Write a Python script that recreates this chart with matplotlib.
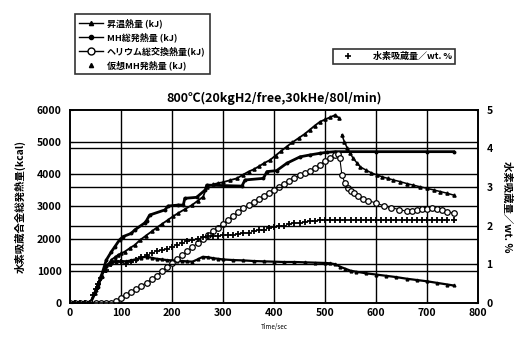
import matplotlib
matplotlib.use("Agg")
import matplotlib.pyplot as plt
from matplotlib.lines import Line2D

plt.rcParams['font.family'] = ['Noto Sans CJK JP', 'DejaVu Sans']
plt.rcParams['font.weight'] = 'bold'

# ---- data ----
title = "800℃(20kgH2/free,30kHe/80l/min)"
x_ticks = [0, 100, 200, 300, 400, 500, 600, 700, 800]
y_ticks = [0, 1000, 2000, 3000, 4000, 5000, 6000]
y2_ticks = [0, 1, 2, 3, 4, 5]

# MH発熱量 (stepped, dots)
mh_t = [0, 40, 55, 61, 71, 81, 88, 97, 104, 120, 127, 146, 150, 156, 186, 192, 212, 222, 225,
        248, 265, 268, 337, 343, 379, 386, 405, 425, 451, 471, 490, 503, 520, 600, 700, 752]
mh_v = [0, 0, 500, 820, 1330, 1590, 1750, 1960, 2060, 2160, 2270, 2480, 2560, 2730, 2890, 3010,
        3040, 3040, 3250, 3280, 3510, 3660, 3630, 3820, 3870, 4080, 4110, 4340, 4540, 4600,
        4650, 4680, 4700, 4700, 4700, 4700]

# 仮想MH発熱量 (triangles) - rising part and descending part
vm1_t = [0, 10, 20, 30, 40, 48, 55, 62, 68, 75, 81, 88, 94, 100, 107, 117, 127, 137, 148, 160,
         170, 181, 192, 202, 212, 226, 240, 250, 261, 268, 280, 290, 300, 313, 327, 340, 350,
         360, 370, 380, 392, 403, 414, 425, 436, 448, 460, 470, 480, 490, 500, 510, 520, 528]
vm1_v = [0, 0, 0, 0, 0, 300, 610, 850, 1020, 1200, 1340, 1420, 1490, 1540, 1590, 1700, 1800,
         1950, 2080, 2220, 2340, 2460, 2580, 2690, 2790, 2920, 3050, 3170, 3300, 3610, 3680,
         3720, 3750, 3810, 3870, 3990, 4080, 4150, 4240, 4340, 4440, 4580, 4720, 4860, 4990,
         5120, 5250, 5380, 5510, 5630, 5700, 5770, 5840, 5740]
vm2_t = [533, 538, 544, 549, 555, 562, 569, 580, 590, 601, 612, 623, 634, 647, 660, 673, 686,
         700, 713, 726, 739, 752]
vm2_v = [5220, 5000, 4800, 4650, 4500, 4360, 4230, 4130, 4050, 3980, 3920, 3870, 3820, 3770,
         3710, 3660, 3610, 3560, 3510, 3460, 3410, 3350]

# ヘリウム熱交換熱量 (open circles)
he_t = [0, 10, 20, 30, 40, 50, 60, 70, 80, 90, 100, 110, 120, 130, 140, 150, 160, 170, 180, 190,
        200, 210, 220, 230, 240, 250, 260, 270, 280, 290, 300, 310, 320, 330, 340, 350, 360,
        370, 380, 390, 400, 410, 420, 430, 440, 450, 460, 470, 480, 490, 500, 510, 520, 525,
        529, 533, 539, 545, 550, 556, 565, 575, 585, 600, 615, 630, 645, 660, 670, 680, 690,
        700, 710, 720, 730, 740, 752]
he_v = [0, 0, 0, 0, 0, 0, 0, 0, 0, 60, 150, 250, 340, 430, 530, 630, 730, 850, 980, 1110,
        1240, 1360, 1480, 1600, 1730, 1860, 1990, 2110, 2230, 2340, 2460, 2580, 2700, 2820,
        2940, 3040, 3140, 3240, 3330, 3430, 3520, 3610, 3710, 3800, 3880, 3960, 4030, 4090,
        4200, 4300, 4400, 4500, 4600, 4620, 4490, 3980, 3720, 3580, 3480, 3410, 3320, 3240,
        3180, 3100, 3020, 2960, 2900, 2850, 2840, 2900, 2920, 2930, 2940, 2930, 2880, 2830,
        2790]

# 昇温熱量 (lower line, small triangles)
sh_t = [0, 20, 40, 50, 60, 70, 80, 90, 100, 110, 120, 130, 140, 150, 160, 170, 180, 190, 200,
        210, 220, 230, 240, 250, 260, 270, 280, 290, 300, 320, 340, 360, 380, 400, 420, 440,
        460, 480, 500, 510, 520, 530, 540, 550, 560, 580, 600, 620, 640, 660, 680, 700, 720,
        740, 752]
sh_v = [0, 0, 0, 400, 800, 1150, 1250, 1280, 1300, 1290, 1320, 1360, 1400, 1440, 1400, 1370,
        1350, 1330, 1320, 1310, 1300, 1290, 1280, 1350, 1430, 1420, 1390, 1370, 1350, 1330,
        1320, 1300, 1290, 1280, 1270, 1270, 1260, 1250, 1240, 1230, 1200, 1120, 1060, 1000,
        970, 920, 880, 840, 800, 750, 710, 670, 620, 570, 540]

# 水素吸蔵量 wt% (plus markers, right axis)
h2_t = [0, 10, 20, 30, 40, 45, 50, 55, 61, 70, 80, 90, 100, 110, 120, 130, 140, 150, 160, 170,
        180, 190, 200, 210, 220, 230, 240, 250, 260, 270, 280, 290, 300, 310, 320, 330, 340,
        350, 360, 370, 380, 390, 400, 410, 420, 430, 440, 450, 460, 470, 480, 490, 500, 510,
        520, 530, 540, 550, 560, 570, 580, 590, 600, 610, 620, 630, 640, 650, 660, 670, 680,
        690, 700, 710, 720, 730, 740, 752]
h2_v = [0, 0, 0, 0, 0, 0.2, 0.35, 0.5, 0.65, 0.85, 1.0, 1.08, 1.05, 1.0, 1.05, 1.1, 1.18, 1.25,
        1.3, 1.35, 1.38, 1.4, 1.45, 1.5, 1.55, 1.6, 1.63, 1.66, 1.7, 1.72, 1.73, 1.74, 1.75,
        1.76, 1.77, 1.78, 1.8, 1.82, 1.85, 1.88, 1.9, 1.93, 1.96, 1.98, 2.0, 2.03, 2.06, 2.08,
        2.1, 2.11, 2.13, 2.14, 2.15, 2.15, 2.15, 2.15, 2.15, 2.15, 2.15, 2.15, 2.15, 2.15,
        2.15, 2.15, 2.15, 2.15, 2.15, 2.15, 2.15, 2.15, 2.15, 2.15, 2.15, 2.15, 2.15, 2.15,
        2.15, 2.15]

lab_sh = "昇温熱量 (kJ)"
lab_mh = "MH総発熱量 (kJ)"
lab_he = "ヘリウム総交換熱量(kJ)"
lab_vm = "仮想MH発熱量 (kJ)"
lab_h2 = "水素吸蔵量／wt. %"
ylab_left = "水素吸蔵合金総発熱量(kcal)"
ylab_right = "水素吸蔵量／wt. %"
xlab = "Time/sec"

# ---- figure ----
fig = plt.figure(figsize=(5.23, 3.38), dpi=100)
ax = fig.add_axes([0.134, 0.104, 0.780, 0.571])
ax2 = ax.twinx()

ax.set_xlim(0, 800)
ax.set_ylim(0, 6000)
ax2.set_ylim(0, 5)

# grid lines: vertical every 100, horizontal at both scales
for xv in x_ticks[1:-1]:
    ax.axvline(xv, color='black', lw=1.0, zorder=1)
for yv in y_ticks[1:-1]:
    ax.axhline(yv, color='black', lw=1.0, zorder=1)
for yv in y2_ticks[1:-1]:
    ax2.axhline(yv, color='black', lw=1.0, zorder=1)

ax.plot(sh_t, sh_v, color='black', lw=1.6, marker='^', ms=2, zorder=3)
ax.plot(mh_t, mh_v, color='black', lw=2.0, marker='o', ms=1.8, zorder=3)
ax.plot(vm1_t, vm1_v, color='black', lw=1.3, marker='^', ms=2.3, zorder=3)
ax.plot(vm2_t, vm2_v, color='black', lw=1.1, marker='^', ms=2.3, zorder=3)
ax.plot(he_t, he_v, color='black', lw=0.8, marker='o', ms=4, mfc='white', mew=0.9, zorder=4)
ax2.plot(h2_t, h2_v, color='black', lw=0, marker='+', ms=5, mew=1.3, zorder=3)

ax.set_xticks(x_ticks)
ax.set_yticks(y_ticks)
ax2.set_yticks(y2_ticks)
for a in (ax, ax2):
    a.tick_params(direction='in', length=2, width=0.8, labelsize=7.5, pad=6)
    for s in a.spines.values():
        s.set_linewidth(1.2)
ax.tick_params(axis='x', pad=4)

ax.set_title(title, fontsize=9, fontweight='bold', pad=6)
ax.set_xlabel(xlab, fontsize=4.5, labelpad=3)
ax.set_ylabel(ylab_left, fontsize=7.5, fontweight='bold', labelpad=8)
ax2.set_ylabel(ylab_right, fontsize=7.5, fontweight='bold', rotation=270, labelpad=14)

h1 = [Line2D([], [], color='black', lw=1, marker='^', ms=3),
      Line2D([], [], color='black', lw=1, marker='o', ms=3),
      Line2D([], [], color='black', lw=1, marker='o', ms=5, mfc='white'),
      Line2D([], [], color='black', lw=0, marker='^', ms=3)]
leg1 = fig.legend(h1, [lab_sh, lab_mh, lab_he, lab_vm], loc='upper left',
                  bbox_to_anchor=(0.134, 0.972), fontsize=6.5, frameon=True,
                  fancybox=False, edgecolor='black', handlelength=2.6,
                  labelspacing=0.45, borderpad=0.5, handletextpad=0.5)
leg1.get_frame().set_linewidth(1.2)
h2 = [Line2D([], [], color='black', lw=0, marker='+', ms=4, mew=1.2)]
leg2 = fig.legend(h2, [lab_h2], loc='upper left', bbox_to_anchor=(0.636, 0.855),
                  fontsize=6.5, frameon=True, fancybox=False, edgecolor='black',
                  handlelength=2.6, borderpad=0.35, handletextpad=1.5, borderaxespad=0)
leg2.get_frame().set_linewidth(1.2)

fig.savefig("out.png", dpi=100, facecolor='white')
